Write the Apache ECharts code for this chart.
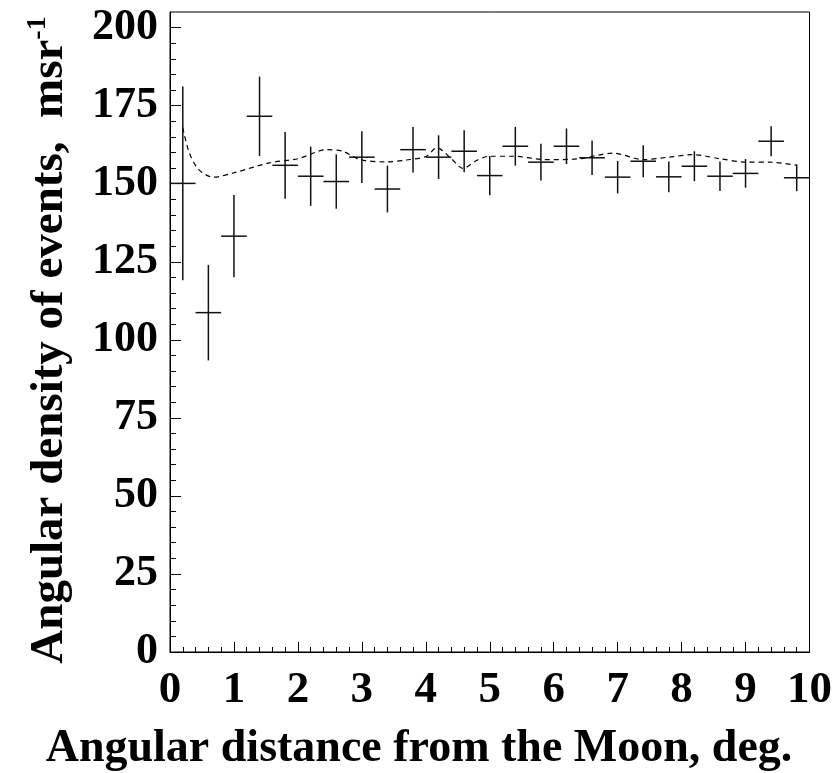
<!DOCTYPE html>
<html>
<head>
<meta charset="utf-8">
<script src="https://cdn.jsdelivr.net/npm/echarts@6/dist/echarts.min.js"></script>
<style>
  html, body { margin: 0; padding: 0; background: #fff; }
  #chart { width: 835px; height: 773px; }
</style>
</head>
<body>
<div id="chart"></div>
<script>
// bin centres (deg) and measured density with errors
var binX = [0.2, 0.6, 1.0, 1.4, 1.8, 2.2, 2.6, 3.0, 3.4, 3.8, 4.2, 4.6, 5.0,
            5.4, 5.8, 6.2, 6.6, 7.0, 7.4, 7.8, 8.2, 8.6, 9.0, 9.4, 9.8];
var density = [150.1, 108.7, 133.2, 171.6, 155.9, 152.4, 150.7, 158.5, 148.3, 160.9, 158.5, 160.4, 152.6,
               162.0, 156.9, 162.0, 158.3, 152.1, 157.2, 152.2, 155.6, 152.4, 153.3, 163.6, 151.9];
var errY = [31.0, 15.3, 13.2, 12.7, 10.7, 9.5, 8.7, 8.3, 7.5, 7.3, 7.0, 6.7, 6.3,
            6.2, 5.9, 5.7, 5.5, 5.2, 5.1, 4.9, 4.8, 4.7, 4.6, 4.8, 4.3];
var halfBin = 0.2;

// expected curve (dashed)
var curveX = [0.2, 0.3, 0.45, 0.68, 1.0, 1.56, 2.0, 2.45, 2.7, 2.97, 3.39, 3.7, 4.01, 4.17, 4.4, 4.58, 4.8,
              5.0, 5.36, 5.89, 6.4, 6.93, 7.4, 7.8, 8.18, 8.6, 9.01, 9.38, 9.8];
var curveY = [168, 160, 154.5, 152.1, 153.5, 156.7, 158, 160.9, 160.4, 157.7, 157, 157.6, 158.8, 161.5, 158, 154.9, 157.5,
              158.8, 158.8, 157.7, 158, 159.8, 157.7, 158.5, 159.3, 158, 156.9, 156.9, 155.9];

var yLabels = [0, 25, 50, 75, 100, 125, 150, 175, 200];
var yMinor = [];
for (var v = 0; v <= 200; v += 5) yMinor.push(v);

var font = '"Liberation Serif", "DejaVu Serif", serif';

var points = binX.map(function (x, i) { return [x, density[i], errY[i]]; });
var curve = curveX.map(function (x, i) { return [x, curveY[i]]; });

var chart = echarts.init(document.getElementById('chart'));
chart.setOption({
  animation: false,
  grid: {
    left: 170, top: 12, right: 25, bottom: 121,
    show: true, borderColor: '#000', borderWidth: 1
  },
  // axis titles placed by hand, as in the original they are not centred on the frame
  graphic: [{
    type: 'text', x: 419, y: 749,
    style: {
      text: 'Angular distance from the Moon, deg.',
      font: 'bold 46px ' + font, fill: '#000',
      align: 'center', verticalAlign: 'middle'
    }
  }, {
    type: 'text', x: 50, y: 340, rotation: Math.PI / 2,
    style: {
      text: '{t|Angular density of events,  msr}{s|-1}',
      fill: '#000', align: 'center', verticalAlign: 'middle',
      rich: {
        t: { fontFamily: font, fontWeight: 'bold', fontSize: 47, fill: '#000' },
        s: { fontFamily: font, fontWeight: 'bold', fontSize: 28, fill: '#000', verticalAlign: 'top', padding: [0, 0, 24, 0] }
      }
    }
  }],
  xAxis: {
    type: 'value', min: 0, max: 10, interval: 1,
    axisLine: { lineStyle: { color: '#000', width: 1 } },
    axisTick: { inside: true, length: 10, lineStyle: { color: '#000' } },
    minorTick: { show: true, splitNumber: 5, length: 5, lineStyle: { color: '#000' } },
    splitLine: { show: false },
    axisLabel: { fontFamily: font, fontWeight: 'bold', fontSize: 45, color: '#000', margin: 16 }
  },
  yAxis: [{
    type: 'value', min: 0, max: 205,
    axisLine: { show: true, lineStyle: { color: '#000', width: 1 } },
    axisTick: { inside: true, length: 11, customValues: yLabels, lineStyle: { color: '#000' } },
    splitLine: { show: false },
    axisLabel: { fontFamily: font, fontWeight: 'bold', fontSize: 44, color: '#000', margin: 12, customValues: yLabels }
  }, {
    type: 'value', min: 0, max: 205, position: 'left',
    axisLine: { show: false },
    axisTick: { inside: true, length: 6, customValues: yMinor, lineStyle: { color: '#000' } },
    axisLabel: { show: false },
    splitLine: { show: false }
  }],
  series: [{
    type: 'custom',
    data: points,
    encode: { x: 0, y: 1 },
    z: 3,
    renderItem: function (params, api) {
      var x = api.value(0), y = api.value(1), e = api.value(2);
      var top = api.coord([x, y + e]);
      var bot = api.coord([x, y - e]);
      var l = api.coord([x - halfBin, y]);
      var r = api.coord([x + halfBin, y]);
      var st = { stroke: '#111', lineWidth: 1.5 };
      return {
        type: 'group',
        children: [
          { type: 'line', shape: { x1: top[0], y1: top[1], x2: bot[0], y2: bot[1] }, style: st },
          { type: 'line', shape: { x1: l[0], y1: l[1], x2: r[0], y2: r[1] }, style: st }
        ]
      };
    }
  }, {
    type: 'line',
    data: curve,
    smooth: 0.3,
    showSymbol: false,
    z: 2,
    lineStyle: { color: '#000', width: 1.2, type: [5, 4] }
  }]
});
</script>
</body>
</html>
